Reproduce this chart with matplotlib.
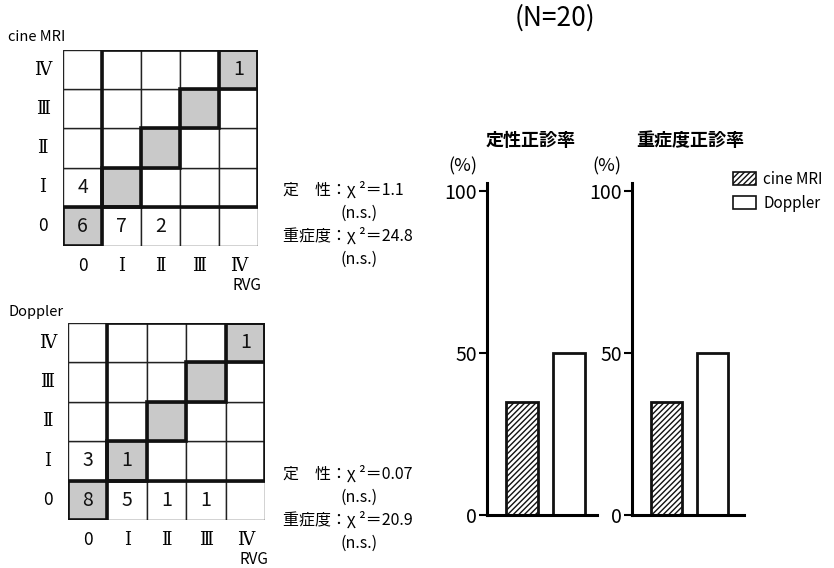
import matplotlib
matplotlib.use("Agg")
import matplotlib.pyplot as plt
from matplotlib.patches import Rectangle, Patch

plt.rcParams['font.family'] = ['Noto Sans CJK JP', 'DejaVu Sans']
plt.rcParams['hatch.linewidth'] = 1.0

W, H = 834, 568

# ---- data -------------------------------------------------------------
grades = ['0', 'Ⅰ', 'Ⅱ', 'Ⅲ', 'Ⅳ']
# rows: method grade 0..IV, columns: RVG grade 0..IV
cine_table = [
    [6, 7, 2, 0, 0],
    [4, 0, 0, 0, 0],
    [0, 0, 0, 0, 0],
    [0, 0, 0, 0, 0],
    [0, 0, 0, 0, 1],
]
doppler_table = [
    [8, 5, 1, 1, 0],
    [3, 1, 0, 0, 0],
    [0, 0, 0, 0, 0],
    [0, 0, 0, 0, 0],
    [0, 0, 0, 0, 1],
]
cine_stats = ['定　性：χ ²＝1.1', '(n.s.)', '重症度：χ ²＝24.8', '(n.s.)']
doppler_stats = ['定　性：χ ²＝0.07', '(n.s.)', '重症度：χ ²＝20.9', '(n.s.)']

methods = ['cine MRI', 'Doppler']
qual_rate = [35, 50]
sev_rate = [35, 50]
rate_ticks = [0, 50, 100]

fig = plt.figure(figsize=(W / 100, H / 100), dpi=100)

ROMAN_FONT = ['DejaVu Serif', 'Noto Sans CJK JP']


def px_axes(x0, y0, x1, y1):
    """Axes from pixel box (left, top, right, bottom)."""
    return fig.add_axes([x0 / W, 1 - y1 / H, (x1 - x0) / W, (y1 - y0) / H])


def fig_text(x, y, s, **kw):
    fig.text(x / W, 1 - y / H, s, **kw)


def grade_style(g):
    if g == '0':
        return dict(family=['Noto Sans CJK JP'], fontsize=12.5)
    return dict(family=ROMAN_FONT, fontsize=13)


def draw_table(box, table, name, name_xy, stats_xy, stats):
    ax = px_axes(*box)
    ax.set_xlim(0, 5)
    ax.set_ylim(0, 5)
    ax.axis('off')
    for r in range(5):
        for c in range(5):
            diag = (r == c)
            ax.add_patch(Rectangle((c, r), 1, 1,
                                   facecolor='#c9c9c9' if diag else 'white',
                                   edgecolor='#222222', lw=1.0, zorder=1))
            if table[r][c]:
                ax.text(c + 0.5, r + 0.5, str(table[r][c]), ha='center',
                        va='center', fontsize=14, color='#111111', zorder=5)
    # thick outlines: upper-right block and diagonal cells
    ax.add_patch(Rectangle((1, 1), 4, 4, fill=False, lw=2.6,
                           edgecolor='#111111', zorder=3))
    for i in range(5):
        ax.add_patch(Rectangle((i, i), 1, 1, fill=False, lw=2.6,
                               edgecolor='#111111', zorder=3))
    for i, g in enumerate(grades):
        ax.text(-0.52, i + 0.5, g, ha='center', va='center',
                clip_on=False, **grade_style(g))
        ax.text(i + 0.5, -0.52, g, ha='center', va='center',
                clip_on=False, **grade_style(g))
    ax.text(4.72, -1.0, 'RVG', ha='center', va='center', fontsize=11,
            clip_on=False)
    fig_text(*name_xy, name, ha='left', va='center', fontsize=10.5)
    sx, sy = stats_xy
    offs = [(0, 0), (57, 23), (0, 46), (57, 69)]
    for (dx, dy), s in zip(offs, stats):
        fig_text(sx + dx, sy + dy, s, ha='left', va='center', fontsize=11.5)


draw_table((63, 50, 258, 246), cine_table, 'cine MRI', (8, 37),
           (283, 190), cine_stats)
draw_table((68, 323, 265, 520), doppler_table, 'Doppler', (8, 312),
           (283, 474), doppler_stats)

fig_text(555, 18, '(N=20)', ha='center', va='center', fontsize=19)


def draw_bars(x0, x1, xl, xr, values, title, title_x):
    ax = px_axes(x0, 183, x1, 515)
    ax.set_xlim(xl, xr)
    ax.set_ylim(0, 102.5)
    for s in ('top', 'right'):
        ax.spines[s].set_visible(False)
    for s in ('left', 'bottom'):
        ax.spines[s].set_linewidth(2.2)
    ax.bar([1], values[:1], width=0.68, facecolor='white', hatch='//////',
           edgecolor='#111111', lw=2.0, align='center')
    ax.bar([2], values[1:], width=0.68, facecolor='white',
           edgecolor='#111111', lw=2.0, align='center')
    ax.set_xticks([])
    ax.set_yticks(rate_ticks)
    ax.set_yticklabels([str(t) for t in rate_ticks], fontsize=14)
    ax.tick_params(axis='y', direction='out', length=6, width=1.5, pad=1)
    ax.text(-0.22, 1.05, '(%)', transform=ax.transAxes, ha='center',
            va='center', fontsize=13)
    fig_text(title_x, 140, title, ha='center', va='center', fontsize=13,
             fontweight='bold')
    return ax


draw_bars(487, 597, 0.255, 2.6, qual_rate, '定性正診率', 531)
draw_bars(632, 744, 0.25, 2.68, sev_rate, '重症度正診率', 690)

handles = [Patch(facecolor='white', edgecolor='#111111', hatch='//////', lw=1.2),
           Patch(facecolor='white', edgecolor='#111111', lw=1.2)]
fig.legend(handles, methods, loc='upper left',
           bbox_to_anchor=(719 / W, 1 - 157 / H), frameon=False,
           fontsize=11, handlelength=1.5, handleheight=0.9,
           handletextpad=0.5, labelspacing=0.45)

fig.savefig('out.png', dpi=100, facecolor='white')
